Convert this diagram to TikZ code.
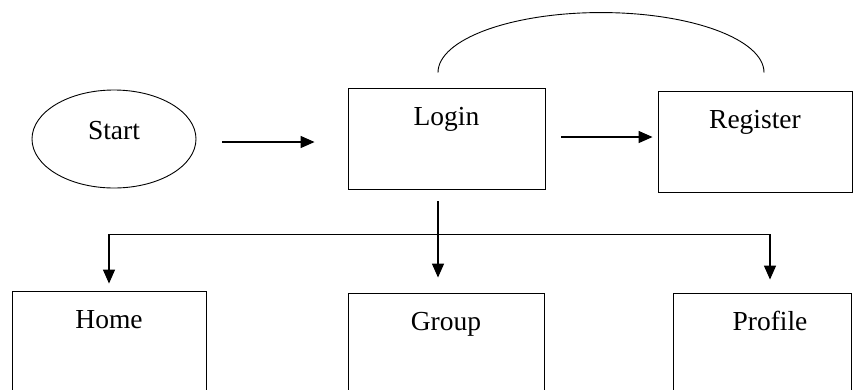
\documentclass[tikz,border=0pt]{standalone}
\usepackage{fontspec}
\setmainfont{Liberation Serif}
\usetikzlibrary{arrows.meta,shapes.geometric,positioning}

\begin{document}
\begin{tikzpicture}[x=1pt, y=-1pt,
                    farrow/.style = {line width=1.4pt, arrows = {-Triangle[width=12pt, length=14pt]}},
                    pagebox/.style = {draw, line width=0.9pt, inner sep=0pt, minimum height=101pt},
                    startnode/.style = {draw, ellipse, line width=0.9pt, inner sep=0pt, minimum width=164pt, minimum height=98pt},
                    boxtext/.style = {anchor=base, yshift=-38pt, font=\fontsize{27.5}{30}\selectfont}
                ]

                \useasboundingbox (0,0) rectangle (853,389);
                \clip (0,0) rectangle (853,389);

                % top row
                \node[startnode, label={[boxtext, yshift=46pt]center:Start}] (start) at (114,139) {};
                \node[pagebox, minimum width=197pt, label={[boxtext]north:Login}] (login) at (446.5,138.5) {};
                \node[pagebox, minimum width=194pt, label={[boxtext]north:Register}] (register) at (755,141.5) {};

                % bottom row (cut off at the lower edge)
                \node[pagebox, minimum width=194pt, minimum height=120pt, label={[boxtext]north:Home}] (home) at (109,351) {};
                \node[pagebox, minimum width=196pt, minimum height=120pt, label={[boxtext]north:Group}] (group) at (446,353) {};
                \node[pagebox, minimum width=178pt, minimum height=120pt, label={[boxtext, xshift=8pt]north:Profile}] (profile) at (762,353) {};

                \draw[farrow, shorten <=26pt, shorten >=33pt] ([yshift=-3pt]start.east) -- ([yshift=-3pt]start.east -| login.west);
                \draw[farrow, shorten <=16pt, shorten >=5pt] ([yshift=1.5pt]login.east) -- ([yshift=1.5pt]login.east -| register.west);

                \draw[line width=0.9pt] ([xshift=-8.5pt, yshift=15pt]login.north) arc[start angle=180, end angle=360, x radius=163, y radius=60];

                \coordinate (branch) at (438,234);
                \draw[farrow, shorten <=12pt, shorten >=15pt] ([xshift=-8.5pt]login.south) -- ([xshift=-8.5pt]login.south |- group.north);
                \draw[line width=0.9pt] (home.north |- branch) -- ([xshift=8pt]profile.north |- branch);
                \draw[farrow, shorten >=7pt] (home.north |- branch) -- (home.north);
                \draw[farrow, shorten >=13pt] ([xshift=8pt]profile.north |- branch) -- ([xshift=8pt]profile.north);

            \end{tikzpicture}
\end{document}
